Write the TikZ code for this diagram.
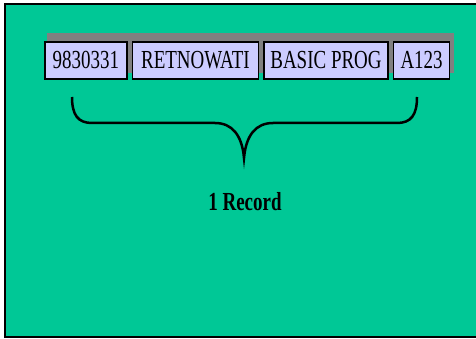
\documentclass[tikz,border=0pt]{standalone}
\usepackage{fontspec}
\newfontfamily\recfont[FakeStretch=0.73]{Liberation Serif}
\usetikzlibrary{positioning}
\definecolor{slidegreen}{RGB}{0,200,150}
\definecolor{fieldblue}{RGB}{204,204,255}
\tikzset{field/.style={draw=black, line width=1.6pt, fill=fieldblue, minimum height=37pt, inner sep=0pt, font=\recfont\fontsize{26}{26}\selectfont}}
\begin{document}
\begin{tikzpicture}[x=1pt,y=-1pt]%record
\useasboundingbox (0,0) rectangle (476,339);
\fill[slidegreen] (5,4) rectangle (490,337);
\draw[line width=1.5pt] (490,4) -- (5,4) -- (5,337) -- (490,337);
\fill[gray] (47,33) rectangle (454,73);
\node[field, minimum width=82pt, anchor=north west] (nim) at (44,41) {9830331};
\node[field, minimum width=126pt, right=4pt of nim] (nama) {RETNOWATI};
\node[field, minimum width=124pt, right=4pt of nama] (kuliah) {BASIC PROG};
\node[field, minimum width=56pt, right=4pt of kuliah] (kode) {A123};
%\draw (nim.south west) -- (kode.south east);
\draw[line width=2.5pt] (72,97) .. controls (72,115) and (78,123) .. (92,123) -- (215,123)
  .. controls (232,123) and (242,135) .. (244,158)
  .. controls (246,135) and (256,123) .. (273,123) -- (397,123)
  .. controls (411,123) and (417,115) .. (417,97);
\node[font=\recfont\bfseries\fontsize{26}{26}\selectfont] (rec) at (245,202) {1 Record};
\end{tikzpicture}
\end{document}
